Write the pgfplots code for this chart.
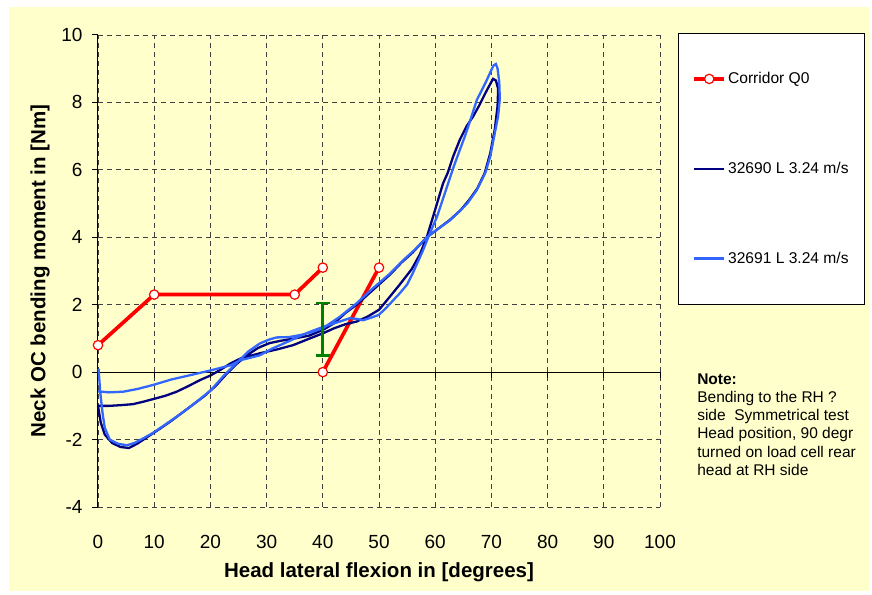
\documentclass[border=0pt]{standalone}
\usepackage{fontspec}
\setmainfont{Liberation Sans}
\usepackage{pgfplots}
\pgfplotsset{compat=1.18}
\definecolor{bgyellow}{HTML}{FFFFCC}
\definecolor{navyline}{HTML}{000080}
\definecolor{lightblue}{HTML}{3366FF}
\definecolor{corridorred}{HTML}{FF0000}
\definecolor{bargreen}{HTML}{008000}
\definecolor{gridgray}{HTML}{404040}

\begin{document}
\begin{tikzpicture}
\useasboundingbox (-98pt,-87pt) rectangle (774pt,507pt);
\fill[white] (-98pt,-87pt) rectangle (774pt,507pt);
\fill[bgyellow] (-89pt,-84pt) rectangle (771pt,500pt);
\begin{axis}[
  at={(0pt,0pt)}, anchor=south west,
  width=562pt, height=472pt, scale only axis,
  xmin=0, xmax=100, ymin=-4, ymax=10,
  clip=false,
  axis x line*=bottom, axis y line*=left,
  x axis line style={draw=none},
  y axis line style={black, line width=1pt, -},
  xtick={0,10,...,100},
  xticklabels={0,10,20,30,40,50,60,70,80,90,100},
  ytick={-4,-2,...,10},
  yticklabels={-4,-2,0,2,4,6,8,10},
  xtick style={draw=none},
  ytick style={black, line width=1pt},
  tick align=outside, major tick length=6pt,
  grid=major,
  major grid style={gridgray, line width=0.9pt, dash pattern=on 5pt off 4pt},
  extra y ticks={0}, extra y tick labels={},
  extra y tick style={grid=major, major grid style={solid, black, line width=1pt}},
  tick label style={font=\fontsize{19}{22}\selectfont},
  xticklabel style={anchor=center, yshift=-29pt},
  yticklabel style={anchor=east, xshift=-6pt},
  xlabel={\textbf{Head lateral flexion in [degrees]}},
  ylabel={\textbf{Neck OC bending moment in [Nm]}},
  label style={font=\fontsize{20.5}{24}\selectfont},
  xlabel style={at={(axis description cs:0.5,-0.138)}, anchor=center},
  ylabel style={at={(axis description cs:-0.103,0.5)}, anchor=center},
  legend style={at={(1.032,1.004)}, anchor=north west, draw=black,
    line width=0.8pt, fill=white, font=\fontsize{15.6}{18}\selectfont,
    row sep=73pt, inner xsep=14pt, inner ysep=37pt,
    /tikz/every even column/.append style={column sep=2pt}},
  legend cell align=left,
  legend image code/.code={\draw[mark repeat=2, mark phase=2, #1] plot coordinates {(0pt,0pt) (15pt,0pt) (30pt,0pt)};},
]
% small ticks on the zero line
\addplot[forget plot, black, only marks, mark=|, mark size=3pt,
  mark options={yshift=-3pt, line width=1pt}]
  coordinates {(10,0) (20,0) (30,0) (40,0) (50,0) (60,0) (70,0) (80,0) (90,0) (100,0)};

% corridor
\addplot[corridorred, line width=3.7pt, mark=*, mark size=4.7pt,
  mark options={fill=white, draw=corridorred, line width=1.2pt},
  unbounded coords=jump]
  coordinates {(0,0.8) (10,2.3) (35,2.3) (40,3.1) (40,nan) (40,0) (50,3.1)};

% 32690
\addplot[navyline, line width=2.3pt, mark=none] coordinates {
(0,-1.0) (0.5,-1.5) (1.2,-1.85) (2.5,-2.1) (4,-2.22) (5.5,-2.25) (7,-2.12)
(9,-1.9) (11,-1.68) (13,-1.45) (15,-1.2) (17,-0.95) (19,-0.7) (21,-0.4)
(22.5,-0.12) (24.5,0.22) (26.5,0.5) (28.5,0.72) (30.5,0.86) (32.5,0.93)
(35,1.0) (37.5,1.08) (40,1.25) (42,1.45) (44,1.75) (46,2.0) (48,2.3)
(50,2.6) (52,2.9) (54,3.25) (56,3.55) (58.5,4.0) (60.5,4.25) (62.5,4.5)
(64.5,4.8) (66,5.1) (67.5,5.45) (68.8,5.9) (69.8,6.5) (70.6,7.2) (71.1,7.9)
(71.2,8.4) (70.8,8.65) (70.3,8.7) (69.8,8.55) (69,8.3) (67.8,7.9) (66.7,7.57)
(65.6,7.3) (64.4,6.9) (63.2,6.4) (62.2,5.9) (61.4,5.6) (60.5,5.1) (59.6,4.6)
(58.5,4.0) (57.3,3.5) (55.8,3.05) (53.7,2.6) (51.5,2.15) (50,1.85) (48,1.65)
(46,1.5) (44,1.42) (42,1.3) (40,1.15) (37.7,1.0) (34.7,0.8) (32,0.68)
(28.8,0.56) (25.3,0.4) (23.5,0.25) (21.7,0.06) (20,-0.1) (18.1,-0.24)
(16,-0.42) (14,-0.58) (12,-0.7) (9.8,-0.8) (8,-0.88) (6.2,-0.95) (4,-0.98)
(2,-1.0) (0,-1.0)};

% 32691
\addplot[lightblue, line width=2.3pt, mark=none] coordinates {
(0.1,0.1) (0.4,-0.6) (0.8,-1.2) (1.2,-1.65) (2.1,-2.0) (3.5,-2.12) (5.1,-2.17)
(6.5,-2.1) (8,-1.97) (9.8,-1.8) (12,-1.55) (14.6,-1.25) (17,-0.95) (20,-0.55)
(22.3,-0.12) (24.7,0.28) (26.8,0.62) (28.8,0.85) (30.5,0.97) (31.8,1.03)
(34,1.04) (36,1.1) (37.7,1.17) (40,1.3) (43,1.64) (46,2.04) (49,2.5)
(52,2.93) (54.5,3.35) (56.5,3.65) (58.5,4.0) (60.5,4.25) (62.6,4.5)
(64.5,4.8) (65.7,5.0) (67.4,5.4) (68.9,5.9) (69.8,6.4) (70.5,7.0) (71.2,7.6)
(71.5,8.1) (71.4,8.6) (71.1,9.0) (70.8,9.14) (70.4,9.1) (70.1,9.0) (69,8.6)
(67.4,8.07) (66.3,7.5) (65.3,7.0) (64.4,6.6) (63.3,6.1) (62.3,5.6) (61.3,5.1)
(60.3,4.6) (59,4.1) (57.8,3.6) (56,2.93) (55,2.6) (53.7,2.34) (51.4,1.93)
(50,1.7) (49,1.64) (47.2,1.54) (46,1.58) (44.8,1.6) (43,1.5) (40,1.34)
(37,1.15) (34,0.92) (31,0.7) (28.8,0.5) (25.3,0.35) (23.5,0.2) (20,0.05)
(16.4,-0.09) (13,-0.22) (9.8,-0.38) (7,-0.5) (4.5,-0.58) (2,-0.6) (0,-0.57)};

% error bar
\addplot[forget plot, bargreen, mark=none,
  error bars/.cd, y dir=both, y explicit,
  error bar style={bargreen, line width=2.8pt},
  error mark options={rotate=90, mark size=7pt, line width=2.8pt, bargreen}]
  coordinates {(40,1.27) +- (0,0.78)};

\legend{Corridor Q0, 32690 L 3.24 m/s, 32691 L 3.24 m/s}

\node[anchor=north west, inner sep=0pt, align=left,
  font=\fontsize{15.5}{18.3}\selectfont] at (rel axis cs:1.066,0.2835)
  {\textbf{Note:}\\ Bending to the RH ?\\ side\ \ Symmetrical test\\
   Head position, 90 degr\\ turned on load cell rear\\ head at RH side};
\end{axis}
\end{tikzpicture}
\end{document}
